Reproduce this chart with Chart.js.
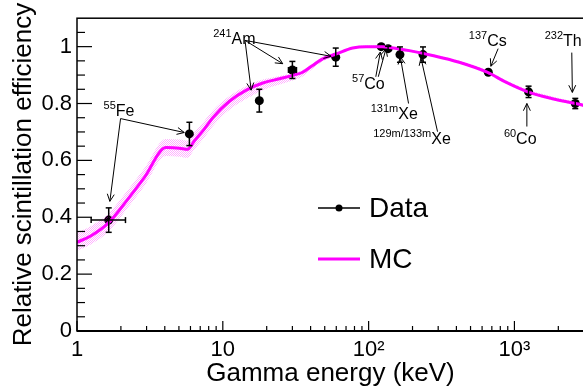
<!DOCTYPE html>
<html>
<head>
<meta charset="utf-8">
<script src="https://cdn.jsdelivr.net/npm/chart.js@4.4.1/dist/chart.umd.min.js"></script>
<style>
  html, body { margin: 0; padding: 0; background: #fff; overflow: hidden; }
  #wrap { width: 590px; height: 388px; }
</style>
</head>
<body>
<div id="wrap"><canvas id="eff" width="590" height="388"></canvas></div>
<script>
// Measured relative efficiency per gamma line
const dataEnergy = [1.65, 5.9, 17.8, 30, 59.5, 122, 136, 164, 236, 662, 1250, 2614];
const dataEff    = [0.390, 0.693, 0.810, 0.918, 0.963, 1.000, 0.993, 0.972, 0.972, 0.910, 0.841, 0.800];
const dataErr    = [0.043, 0.041, 0.040, 0.030, 0.032, 0, 0.008, 0.027, 0.027, 0, 0.020, 0.018];
const dataXErrLo = [0.40, 0, 0, 1.8, 0, 0, 0, 0, 0, 0, 0, 0];
const dataXErrHi = [0.50, 0, 0, 2.0, 0, 0, 0, 0, 0, 0, 0, 0];

// MC prediction and its uncertainty band
const mcEnergy = [1, 1.25, 1.65, 2.22, 2.9, 4.07, 5.05, 5.73, 6.37, 7.46, 8.54, 11.1, 14.5, 18.8, 24.5, 30.2, 35.3, 41.3, 48.4, 59.8, 77.7, 96, 125, 139, 190, 274, 418, 650, 873, 1236, 1820, 2630, 3000];
const mcEff    = [0.312, 0.335, 0.381, 0.462, 0.540, 0.645, 0.643, 0.639, 0.668, 0.710, 0.750, 0.808, 0.847, 0.872, 0.887, 0.899, 0.910, 0.934, 0.957, 0.974, 0.995, 1.000, 1.000, 0.997, 0.986, 0.969, 0.945, 0.910, 0.875, 0.841, 0.817, 0.800, 0.793];
const mcUpper  = [0.346, 0.369, 0.414, 0.494, 0.572, 0.675, 0.673, 0.669, 0.698, 0.738, 0.775, 0.826, 0.862, 0.884, 0.897, 0.907, 0.918, 0.941, 0.963, 0.979, 0.999, 1.004, 1.004, 1.001, 0.990, 0.973, 0.950, 0.916, 0.882, 0.849, 0.825, 0.806, 0.799];
const mcLower  = [0.282, 0.305, 0.351, 0.432, 0.510, 0.615, 0.613, 0.609, 0.638, 0.680, 0.720, 0.778, 0.817, 0.847, 0.867, 0.881, 0.895, 0.922, 0.949, 0.969, 0.991, 0.996, 0.996, 0.993, 0.982, 0.965, 0.941, 0.905, 0.870, 0.836, 0.812, 0.795, 0.788];

// Axis ticks
const xTicks = [1, 2, 3, 4, 5, 6, 7, 8, 9, 10, 20, 30, 40, 50, 60, 70, 80, 90, 100, 200, 300, 400, 500, 600, 700, 800, 900, 1000, 2000, 3000];
const xLabelValues = [1, 10, 100, 1000];
const xLabelText = ['1', '10', '10²', '10³'];
const yMajorTicks = [0, 0.2, 0.4, 0.6, 0.8, 1];
const yMajorText = ['0', '0.2', '0.4', '0.6', '0.8', '1'];
const yMinorTicks = [0.05, 0.1, 0.15, 0.25, 0.3, 0.35, 0.45, 0.5, 0.55, 0.65, 0.7, 0.75, 0.85, 0.9, 0.95, 1.05];

// Source labels: text anchor and arrows, all in (keV, efficiency)
const sources = [
  { sup: '55', name: 'Fe', at: [1.845, 0.757], arrows: [[1.99, 0.747, 1.68, 0.456], [1.99, 0.747, 5.44, 0.698]] },
  { sup: '241', name: 'Am', at: [11.47, 1.009], arrows: [[14.2, 1.022, 15.65, 0.847], [14.2, 1.022, 25.76, 0.940], [14.2, 1.022, 55.3, 0.966]] },
  { sup: '57', name: 'Co', at: [93.4, 0.852], arrows: [[112, 0.894, 120.3, 0.981], [116.5, 0.894, 131.5, 0.992]] },
  { sup: '131m', name: 'Xe', at: [159.7, 0.747], arrows: [[187.9, 0.800, 164.9, 0.964]] },
  { sup: '129m/133m', name: 'Xe', at: [268.9, 0.657], arrows: [[296.9, 0.701, 228.6, 0.960]] },
  { sup: '137', name: 'Cs', at: [650, 1.002], arrows: [[773, 0.993, 689, 0.931]] },
  { sup: '232', name: 'Th', at: [2156, 1.002], arrows: [[2474, 0.979, 2496, 0.839]] },
  { sup: '60', name: 'Co', at: [1027, 0.657], arrows: [[1217, 0.719, 1217, 0.800]] }
];

const FONT = 'Liberation Sans, Arial, Helvetica, sans-serif';

// stippled pink fill for the MC band
function stipple() {
  const c = document.createElement('canvas');
  c.width = 2; c.height = 2;
  const g = c.getContext('2d');
  g.fillStyle = 'rgba(255, 0, 255, 0.3)';
  g.fillRect(0, 0, 1, 1);
  g.fillRect(1, 1, 1, 1);
  return g.createPattern(c, 'repeat');
}

function seg(ctx, x1, y1, x2, y2) {
  ctx.beginPath(); ctx.moveTo(x1, y1); ctx.lineTo(x2, y2); ctx.stroke();
}

function arrow(ctx, x1, y1, x2, y2) {
  seg(ctx, x1, y1, x2, y2);
  const ang = Math.atan2(y2 - y1, x2 - x1);
  const len = 8, spread = 0.45;
  ctx.beginPath();
  ctx.moveTo(x2 - len * Math.cos(ang - spread), y2 - len * Math.sin(ang - spread));
  ctx.lineTo(x2, y2);
  ctx.lineTo(x2 - len * Math.cos(ang + spread), y2 - len * Math.sin(ang + spread));
  ctx.stroke();
}

const extras = {
  id: 'extras',
  afterDatasetsDraw(chart) {
    const { ctx, scales: { x, y } } = chart;
    ctx.save();
    ctx.strokeStyle = '#000';
    ctx.lineWidth = 1.5;
    // error bars
    dataEnergy.forEach((e, i) => {
      const px = x.getPixelForValue(e);
      const py = y.getPixelForValue(dataEff[i]);
      if (dataErr[i] > 0) {
        const t = y.getPixelForValue(dataEff[i] + dataErr[i]);
        const b = y.getPixelForValue(dataEff[i] - dataErr[i]);
        seg(ctx, px, t, px, b);
        seg(ctx, px - 3, t, px + 3, t);
        seg(ctx, px - 3, b, px + 3, b);
      }
      if (dataXErrLo[i] > 0) {
        const l = x.getPixelForValue(e - dataXErrLo[i]);
        const r = x.getPixelForValue(e + dataXErrHi[i]);
        seg(ctx, l, py, r, py);
        seg(ctx, l, py - 3, l, py + 3);
        seg(ctx, r, py - 3, r, py + 3);
      }
    });

    // source labels and arrows
    ctx.lineWidth = 1;
    ctx.fillStyle = '#000';
    ctx.textBaseline = 'alphabetic';
    sources.forEach(s => {
      const lx = x.getPixelForValue(s.at[0]);
      const ly = y.getPixelForValue(s.at[1]);
      ctx.font = '16px ' + FONT;
      ctx.textAlign = 'left';
      ctx.fillText(s.name, lx, ly);
      ctx.font = '11px ' + FONT;
      ctx.textAlign = 'right';
      ctx.fillText(s.sup, lx, ly - 7);
      s.arrows.forEach(a => {
        arrow(ctx, x.getPixelForValue(a[0]), y.getPixelForValue(a[1]),
                   x.getPixelForValue(a[2]), y.getPixelForValue(a[3]));
      });
    });
    ctx.restore();
  },
  afterDraw(chart) {
    const { ctx, chartArea: a, scales: { x, y } } = chart;
    ctx.save();
    ctx.strokeStyle = '#000';
    // inward tick marks
    ctx.lineWidth = 1.2;
    yMajorTicks.forEach(v => { const p = y.getPixelForValue(v); seg(ctx, a.left, p, a.left + 15, p); });
    yMinorTicks.forEach(v => { const p = y.getPixelForValue(v); seg(ctx, a.left, p, a.left + 8, p); });
    xTicks.forEach(v => {
      const p = x.getPixelForValue(v);
      const major = xLabelValues.includes(v);
      seg(ctx, p, a.bottom, p, a.bottom - (major ? 10 : 5));
    });
    // frame
    ctx.lineWidth = 1.5;
    ctx.strokeRect(a.left, a.top, a.right - a.left, a.bottom - a.top);
    ctx.lineWidth = 2;
    seg(ctx, a.left, a.bottom, a.right, a.bottom);

    // legend
    const lgX = 318, lgW = 42, row1 = 208, row2 = 259;
    ctx.lineWidth = 1.5;
    seg(ctx, lgX, row1, lgX + lgW, row1);
    ctx.fillStyle = '#000';
    ctx.beginPath(); ctx.arc(lgX + lgW / 2, row1, 3.5, 0, Math.PI * 2); ctx.fill();
    ctx.strokeStyle = '#ff00ff';
    ctx.lineWidth = 3;
    seg(ctx, lgX, row2, lgX + lgW, row2);
    ctx.font = '28px ' + FONT;
    ctx.textAlign = 'left';
    ctx.textBaseline = 'middle';
    ctx.fillText(chart.data.datasets[3].label, lgX + 51, row1 + 1);
    ctx.fillText(chart.data.datasets[2].label, lgX + 51, row2 + 1);
    ctx.restore();
  }
};

const band = stipple();

new Chart(document.getElementById('eff'), {
  type: 'line',
  data: {
    datasets: [
      {
        label: 'MC band',
        data: mcEnergy.map((e, i) => ({ x: e, y: mcUpper[i] })),
        borderWidth: 0, pointRadius: 0, fill: '+1',
        backgroundColor: band, cubicInterpolationMode: 'monotone'
      },
      {
        label: 'MC band low',
        data: mcEnergy.map((e, i) => ({ x: e, y: mcLower[i] })),
        borderWidth: 0, pointRadius: 0, fill: false,
        cubicInterpolationMode: 'monotone'
      },
      {
        label: 'MC',
        data: mcEnergy.map((e, i) => ({ x: e, y: mcEff[i] })),
        borderColor: '#ff00ff', borderWidth: 3, pointRadius: 0, fill: false,
        cubicInterpolationMode: 'monotone'
      },
      {
        label: 'Data',
        data: dataEnergy.map((e, i) => ({ x: e, y: dataEff[i] })),
        showLine: false, pointRadius: 4.5, pointBackgroundColor: '#000',
        pointBorderColor: '#000', pointBorderWidth: 0
      }
    ]
  },
  options: {
    responsive: false,
    animation: false,
    devicePixelRatio: 1,
    layout: { padding: { left: 0, top: 16, right: 5, bottom: 0 } },
    plugins: { legend: { display: false }, tooltip: { enabled: false } },
    scales: {
      x: {
        type: 'logarithmic',
        min: 1,
        max: 3000,
        grid: { display: false, drawTicks: false },
        border: { display: false },
        afterBuildTicks: s => { s.ticks = xTicks.map(v => ({ value: v })); },
        afterFit: s => { s.height = 57; },
        ticks: {
          autoSkip: false, maxRotation: 0, padding: 6,
          color: '#000', font: { family: FONT, size: 22 },
          callback: v => { const k = xLabelValues.indexOf(v); return k >= 0 ? xLabelText[k] : ''; }
        },
        title: {
          display: true, text: 'Gamma energy (keV)', color: '#000',
          font: { family: FONT, size: 26, lineHeight: 1 }, padding: { top: 0, bottom: 1 }
        }
      },
      y: {
        min: 0,
        max: 1.1,
        grid: { display: false, drawTicks: false },
        border: { display: false },
        afterBuildTicks: s => { s.ticks = yMajorTicks.map(v => ({ value: v })); },
        afterFit: s => { s.width = 77; },
        ticks: {
          padding: 5, color: '#000', font: { family: FONT, size: 22 },
          callback: v => { const k = yMajorTicks.indexOf(v); return k >= 0 ? yMajorText[k] : ''; }
        },
        title: {
          display: true, text: 'Relative scintillation efficiency', color: '#000',
          font: { family: FONT, size: 26 }, padding: { top: 8, bottom: 0 }
        }
      }
    }
  },
  plugins: [extras]
});
</script>
</body>
</html>
